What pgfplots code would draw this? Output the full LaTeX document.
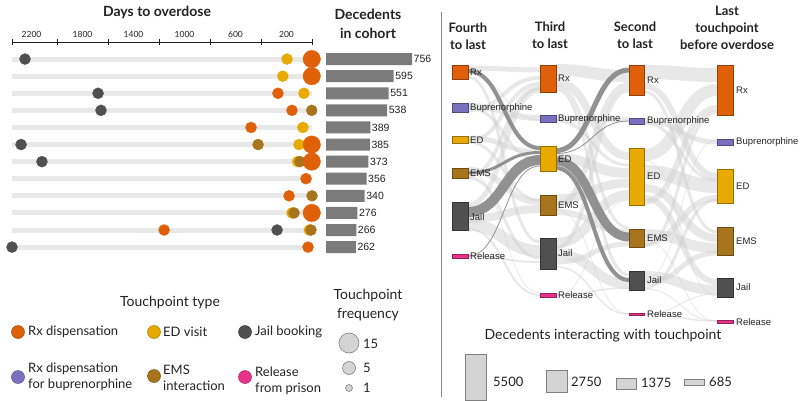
\documentclass[border=0pt]{standalone}
\usepackage{fontspec}
\setmainfont{Lato}
\newfontfamily\arial{Liberation Sans}
\usepackage{pgfplots}
\pgfplotsset{compat=1.18}

\definecolor{rxc}{HTML}{E0600A}
\definecolor{edc}{HTML}{E8A900}
\definecolor{emsc}{HTML}{A8741C}
\definecolor{jailc}{HTML}{505050}
\definecolor{bupc}{HTML}{7B70BF}
\definecolor{relc}{HTML}{E5338B}
\definecolor{barc}{HTML}{7B7B7B}
\definecolor{rowc}{HTML}{E8E8E8}
\definecolor{flowc}{HTML}{CDCDCD}
\definecolor{darkflow}{HTML}{8C8C8C}
\definecolor{freqc}{HTML}{D4D4D4}
\definecolor{sepc}{HTML}{8A8A8A}
\definecolor{txt}{HTML}{222222}

\newcommand\fs[2]{\fontsize{#1}{#2}\selectfont}
\tikzset{lf/.style={draw=flowc, draw opacity=0.45},
         df/.style={draw=darkflow, draw opacity=0.95}}

% sankey links: style, y at source, y at target, width
\newcommand\fab[4]{\addplot[#1,line width=#4pt] coordinates {(468,#2)} .. controls (axis cs:504,#2) and (axis cs:504,#3) .. (axis cs:540,#3);}
\newcommand\fbc[4]{\addplot[#1,line width=#4pt] coordinates {(556,#2)} .. controls (axis cs:592.5,#2) and (axis cs:592.5,#3) .. (axis cs:629,#3);}
\newcommand\fcd[4]{\addplot[#1,line width=#4pt] coordinates {(644,#2)} .. controls (axis cs:680.5,#2) and (axis cs:680.5,#3) .. (axis cs:717,#3);}
% sankey node: colour, x1, x2, y1, y2
\newcommand\snode[5]{\addplot[fill=#1, draw=#1!65!black, line width=0.5pt] coordinates {(#2,#4) (#3,#4) (#3,#5) (#2,#5)} -- cycle;}
\newcommand\slab[3]{\node[anchor=west, inner sep=0pt, font=\arial\fs{9.5}{11}, text=txt] at (axis cs:#1,#2) {#3};}

\begin{document}
\begin{tikzpicture}[x=1pt,y=1pt]
\path[use as bounding box] (0,0) rectangle (800,401);

% ---------- canvas axis in pixel units ----------
\begin{axis}[at={(0,0)}, anchor=south west, width=800pt, height=401pt,
    scale only axis, xmin=0, xmax=800, ymin=0, ymax=401, y dir=reverse,
    hide axis, clip=false]

  \addplot[draw=sepc, line width=1pt] coordinates {(441,12) (441,397)};

  % light links
  \fab{lf}{68}{70}{5}
  \fab{lf}{77}{242}{3}
  \fab{lf}{106}{118}{6}
  \fab{lf}{110}{78}{4}
  \fab{lf}{108}{160}{3}
  \fab{lf}{138}{152}{5}
  \fab{lf}{141}{84}{4}
  \fab{lf}{142}{200}{3}
  \fab{lf}{170}{202}{6}
  \fab{lf}{176}{88}{4}
  \fab{lf}{178}{258}{3}
  \fab{lf}{205}{90}{5}
  \fab{lf}{219}{209}{8}
  \fab{lf}{225}{251}{12}
  \fab{lf}{229}{295}{2}
  \fab{lf}{256}{262}{2}
  \fab{lf}{74}{120}{1}
  \fab{lf}{172}{293}{0.8}

  \fbc{lf}{70}{76}{12}
  \fbc{lf}{82}{156}{8}
  \fbc{lf}{89}{275}{3}
  \fbc{lf}{86}{228}{3}
  \fbc{lf}{118}{120}{5}
  \fbc{lf}{121}{165}{3}
  \fbc{lf}{158}{173}{10}
  \fbc{lf}{199}{183}{9}
  \fbc{lf}{206}{85}{6}
  \fbc{lf}{212}{232}{6}
  \fbc{lf}{243}{195}{10}
  \fbc{lf}{248}{90}{4}
  \fbc{lf}{254}{284}{10}
  \fbc{lf}{262}{244}{5}
  \fbc{lf}{267}{314}{1.5}
  \fbc{lf}{295}{288}{1.5}
  \fbc{lf}{296}{200}{0.8}
  \fbc{lf}{210}{314}{0.8}

  \fcd{lf}{72}{75}{14}
  \fcd{lf}{86}{176}{6}
  \fcd{lf}{92}{232}{3}
  \fcd{lf}{121}{142}{5}
  \fcd{lf}{123}{180}{3}
  \fcd{lf}{155}{90}{12}
  \fcd{lf}{172}{186}{14}
  \fcd{lf}{188}{238}{8}
  \fcd{lf}{198}{282}{6}
  \fcd{lf}{202}{108}{6}
  \fcd{lf}{234}{248}{10}
  \fcd{lf}{243}{198}{6}
  \fcd{lf}{246}{112}{3}
  \fcd{lf}{276}{290}{10}
  \fcd{lf}{283}{253}{5}
  \fcd{lf}{288}{200}{3}
  \fcd{lf}{314}{321}{1.5}
  \fcd{lf}{314}{294}{1}
  \fcd{lf}{289}{321}{1}
  \fcd{lf}{240}{321}{0.8}
  \fcd{lf}{160}{296}{0.8}
  \fcd{lf}{280}{140}{0.8}

  % highlighted links
  \fab{df}{71}{148}{4}
  \fab{df}{173}{152.5}{3}
  \fab{df}{212}{160}{10}
  \fab{df}{256}{166}{0.8}
  \fbc{df}{150.5}{70}{5}
  \fbc{df}{153.5}{121}{0.8}
  \fbc{df}{161}{237}{9}
  \fbc{df}{168}{280}{4}

  % nodes
  \snode{rxc}{452}{468}{65}{79}
  \snode{bupc}{452}{468}{103}{112}
  \snode{edc}{452}{468}{136}{143}
  \snode{emsc}{452}{468}{168}{178}
  \snode{jailc}{452}{468}{202}{230}
  \snode{relc}{452}{468}{254}{258}

  \snode{rxc}{540}{556}{65}{92}
  \snode{bupc}{540}{556}{115}{122}
  \snode{edc}{540}{556}{146}{171}
  \snode{emsc}{540}{556}{195}{215}
  \snode{jailc}{540}{556}{238}{269}
  \snode{relc}{540}{556}{293}{297}

  \snode{rxc}{629}{644}{65}{95}
  \snode{bupc}{629}{644}{118}{124}
  \snode{edc}{629}{644}{148}{205}
  \snode{emsc}{629}{644}{229}{247}
  \snode{jailc}{629}{644}{271}{290}
  \snode{relc}{629}{644}{313}{315.5}

  \snode{rxc}{717}{733}{65}{115}
  \snode{bupc}{717}{733}{139}{145}
  \snode{edc}{717}{733}{169}{203}
  \snode{emsc}{717}{733}{227}{255}
  \snode{jailc}{717}{733}{278}{297}
  \snode{relc}{717}{733}{320}{323}

  \slab{470}{72}{Rx}
  \slab{470}{108}{Buprenorphine}
  \slab{470}{140}{ED}
  \slab{470}{173}{EMS}
  \slab{470}{217}{Jail}
  \slab{470}{256}{Release}
  \slab{558}{78.5}{Rx}
  \slab{558}{119}{Buprenorphine}
  \slab{558}{159}{ED}
  \slab{558}{205}{EMS}
  \slab{558}{253.5}{Jail}
  \slab{558}{295}{Release}
  \slab{647}{80}{Rx}
  \slab{647}{121}{Buprenorphine}
  \slab{647}{176.5}{ED}
  \slab{647}{238}{EMS}
  \slab{647}{280.5}{Jail}
  \slab{647}{314}{Release}
  \slab{736}{90}{Rx}
  \slab{736}{142}{Buprenorphine}
  \slab{736}{186}{ED}
  \slab{736}{241}{EMS}
  \slab{736}{287.5}{Jail}
  \slab{736}{322}{Release}

  % sankey headers
  \node[align=center, font=\bfseries\fs{13}{17}, text=txt] at (axis cs:468,36.5) {Fourth\\to last};
  \node[align=center, font=\bfseries\fs{13}{17}, text=txt] at (axis cs:550,35.5) {Third\\to last};
  \node[align=center, font=\bfseries\fs{13}{17}, text=txt] at (axis cs:635,35) {Second\\to last};
  \node[align=center, font=\bfseries\fs{13}{17}, text=txt] at (axis cs:727,28) {Last\\touchpoint\\before overdose};

  % box size legend
  \node[font=\fs{14}{17}, text=txt] at (axis cs:603,336) {Decedents interacting with touchpoint};
  \addplot[fill=freqc, draw=gray, line width=0.6pt] coordinates {(465,354) (486,354) (486,400) (465,400)} -- cycle;
  \addplot[fill=freqc, draw=gray, line width=0.6pt] coordinates {(546,370) (567,370) (567,392) (546,392)} -- cycle;
  \addplot[fill=freqc, draw=gray, line width=0.6pt] coordinates {(616,378) (636,378) (636,389) (616,389)} -- cycle;
  \addplot[fill=freqc, draw=gray, line width=0.6pt] coordinates {(684,379.5) (704,379.5) (704,385) (684,385)} -- cycle;
  \node[anchor=west, inner sep=0pt, font=\fs{13}{15}, text=txt] at (axis cs:493,382) {5500};
  \node[anchor=west, inner sep=0pt, font=\fs{13}{15}, text=txt] at (axis cs:571,382) {2750};
  \node[anchor=west, inner sep=0pt, font=\fs{13}{15}, text=txt] at (axis cs:641,383) {1375};
  \node[anchor=west, inner sep=0pt, font=\fs{13}{15}, text=txt] at (axis cs:709,382) {685};

  % left headers
  \node[font=\bfseries\fs{14}{18}, text=txt] at (axis cs:157,12) {Days to overdose};
  \node[align=center, font=\bfseries\fs{14}{19}, text=txt] at (axis cs:368,23.5) {Decedents\\in cohort};

  % touchpoint type legend
  \node[font=\fs{14}{17}, text=txt] at (axis cs:170,303) {Touchpoint type};
  \addplot[only marks, mark=*, mark size=6.5pt, mark options={fill=rxc, draw=rxc!75!black, line width=0.5pt}] coordinates {(18,332)};
  \addplot[only marks, mark=*, mark size=6.5pt, mark options={fill=edc, draw=edc!75!black, line width=0.5pt}] coordinates {(154,332)};
  \addplot[only marks, mark=*, mark size=6.5pt, mark options={fill=jailc, draw=jailc!75!black, line width=0.5pt}] coordinates {(245,332)};
  \addplot[only marks, mark=*, mark size=6.5pt, mark options={fill=bupc, draw=bupc!75!black, line width=0.5pt}] coordinates {(18,377)};
  \addplot[only marks, mark=*, mark size=6.5pt, mark options={fill=emsc, draw=emsc!75!black, line width=0.5pt}] coordinates {(154,376)};
  \addplot[only marks, mark=*, mark size=6.5pt, mark options={fill=relc, draw=relc!75!black, line width=0.5pt}] coordinates {(245,377)};
  \node[anchor=west, inner sep=0pt, font=\fs{13}{16}, text=txt] at (axis cs:28,332) {Rx dispensation};
  \node[anchor=west, inner sep=0pt, font=\fs{13}{16}, text=txt] at (axis cs:163,332) {ED visit};
  \node[anchor=west, inner sep=0pt, font=\fs{13}{16}, text=txt] at (axis cs:255,332) {Jail booking};
  \node[anchor=west, align=left, inner sep=0pt, font=\fs{13}{16}, text=txt] at (axis cs:28,377) {Rx dispensation\\for buprenorphine};
  \node[anchor=west, align=left, inner sep=0pt, font=\fs{13}{16}, text=txt] at (axis cs:163,378) {EMS\\interaction};
  \node[anchor=west, align=left, inner sep=0pt, font=\fs{13}{16}, text=txt] at (axis cs:255,381) {Release\\from prison};

  % frequency legend
  \node[align=center, font=\fs{14}{19}, text=txt] at (axis cs:368,305.5) {Touchpoint\\frequency};
  \addplot[only marks, mark=*, mark size=10pt, mark options={fill=freqc, draw=gray, line width=0.6pt}] coordinates {(349,343)};
  \addplot[only marks, mark=*, mark size=6.5pt, mark options={fill=freqc, draw=gray, line width=0.6pt}] coordinates {(349,368)};
  \addplot[only marks, mark=*, mark size=3.5pt, mark options={fill=freqc, draw=gray, line width=0.6pt}] coordinates {(349,388)};
  \node[anchor=west, inner sep=0pt, font=\fs{13}{15}, text=txt] at (axis cs:363,344) {15};
  \node[anchor=west, inner sep=0pt, font=\fs{13}{15}, text=txt] at (axis cs:363,368) {5};
  \node[anchor=west, inner sep=0pt, font=\fs{13}{15}, text=txt] at (axis cs:363,388) {1};
\end{axis}

% ---------- dot plot: days to overdose ----------
\begin{axis}[at={(12pt,359pt)}, anchor=north west, width=300pt, height=222.2pt,
    scale only axis, x dir=reverse, xmin=0, xmax=2353, ymin=-13, ymax=0,
    hide y axis, axis x line*=top,
    xtick pos=upper, xticklabel pos=upper,
    x axis line style={-, draw=txt, line width=0.8pt},
    xtick={200,600,...,2200}, major tick length=0pt,
    minor xtick={0,400,...,2000,2353}, minor tick length=6pt, tick align=center,
    every tick/.style={draw=txt, line width=0.8pt},
    xticklabel style={font=\fs{8.5}{10}, text=txt, yshift=1pt},
    /pgf/number format/assume math mode=true,
    /pgf/number format/1000 sep={}, clip=false]
  \addplot[rowc, line width=5pt] coordinates {(0,-1) (2353,-1)};
  \addplot[rowc, line width=5pt] coordinates {(0,-2) (2353,-2)};
  \addplot[rowc, line width=5pt] coordinates {(0,-3) (2353,-3)};
  \addplot[rowc, line width=5pt] coordinates {(0,-4) (2353,-4)};
  \addplot[rowc, line width=5pt] coordinates {(0,-5) (2353,-5)};
  \addplot[rowc, line width=5pt] coordinates {(0,-6) (2353,-6)};
  \addplot[rowc, line width=5pt] coordinates {(0,-7) (2353,-7)};
  \addplot[rowc, line width=5pt] coordinates {(0,-8) (2353,-8)};
  \addplot[rowc, line width=5pt] coordinates {(0,-9) (2353,-9)};
  \addplot[rowc, line width=5pt] coordinates {(0,-10) (2353,-10)};
  \addplot[rowc, line width=5pt] coordinates {(0,-11) (2353,-11)};
  \addplot[rowc, line width=5pt] coordinates {(0,-12) (2353,-12)};
  % jail booking
  \addplot[only marks, mark=*, mark size=5.5pt, color=jailc]
    coordinates {(2251,-1) (1678,-3) (1655,-4) (2282,-6) (2118,-7) (274,-11) (2353,-12)};
  % Rx dispensation (medium)
  \addplot[only marks, mark=*, mark size=5.5pt, color=rxc]
    coordinates {(267,-3) (157,-4) (478,-5) (47,-8) (180,-9) (1160,-11) (31,-12)};
  % ED visit
  \addplot[only marks, mark=*, mark size=5.5pt, color=edc]
    coordinates {(196,-1) (229,-2) (63,-3) (71,-5) (102,-6) (112,-7) (157,-10) (21,-11)};
  % EMS interaction
  \addplot[only marks, mark=*, mark size=5.5pt, color=emsc]
    coordinates {(2,-4) (423,-6) (94,-7) (0,-9) (141,-10) (8,-11)};
  % Rx dispensation (frequent)
  \addplot[only marks, mark=*, mark size=8.7pt, color=rxc]
    coordinates {(2,-1) (2,-2) (2,-6) (2,-7) (2,-10)};
\end{axis}

% ---------- decedents in cohort ----------
\begin{axis}[at={(326pt,359pt)}, anchor=north west, width=91pt, height=222.2pt,
    scale only axis, xmin=0, xmax=800, ymin=-13, ymax=0, hide axis, clip=false,
    xbar, bar width=12pt, bar shift=0pt, point meta=x,
    /pgf/number format/assume math mode=true,
    nodes near coords,
    nodes near coords style={font=\arial\fs{10.5}{12}, text=txt, anchor=west, inner sep=1.5pt}]
  \addplot[fill=barc, draw=none] coordinates {(756,-1) (595,-2) (551,-3) (538,-4) (389,-5) (385,-6)
    (373,-7) (356,-8) (340,-9) (276,-10) (266,-11) (262,-12)};
\end{axis}
\end{tikzpicture}
\end{document}
